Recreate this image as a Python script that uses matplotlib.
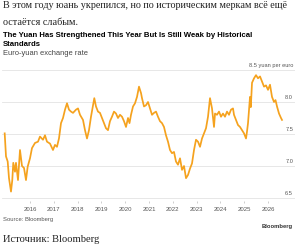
import matplotlib
matplotlib.use("Agg")
import matplotlib.pyplot as plt
import matplotlib.transforms as mtransforms

# Курс евро к юаню (десятичный год, юаней за евро)
years = [
    2014.937, 2014.992, 2015.063, 2015.118, 2015.202, 2015.256, 2015.298, 2015.370,
    2015.412, 2015.496, 2015.580, 2015.664, 2015.748, 2015.832, 2015.903, 2016.000,
    2016.084, 2016.210, 2016.336, 2016.420, 2016.546, 2016.630, 2016.714, 2016.840,
    2016.966, 2017.050, 2017.134, 2017.218, 2017.303, 2017.387, 2017.471, 2017.555,
    2017.639, 2017.723, 2017.807, 2017.933, 2018.017, 2018.101, 2018.227, 2018.311,
    2018.395, 2018.479, 2018.563, 2018.647, 2018.702, 2018.773, 2018.857, 2018.941,
    2019.025, 2019.109, 2019.193, 2019.277, 2019.361, 2019.445, 2019.529, 2019.613,
    2019.697, 2019.782, 2019.866, 2019.950, 2020.034, 2020.118, 2020.181, 2020.244,
    2020.328, 2020.412, 2020.496, 2020.580, 2020.664, 2020.706, 2020.790, 2020.874,
    2020.958, 2021.042, 2021.126, 2021.210, 2021.294, 2021.378, 2021.462, 2021.546,
    2021.630, 2021.714, 2021.798, 2021.882, 2021.966, 2022.050, 2022.134, 2022.218,
    2022.303, 2022.387, 2022.471, 2022.555, 2022.639, 2022.723, 2022.807, 2022.891,
    2022.975, 2023.059, 2023.143, 2023.227, 2023.311, 2023.395, 2023.479, 2023.563,
    2023.647, 2023.731, 2023.773, 2023.857, 2023.941, 2024.025, 2024.109, 2024.193,
    2024.277, 2024.361, 2024.445, 2024.529, 2024.571, 2024.655, 2024.739, 2024.824,
    2024.908, 2024.992, 2025.076, 2025.118, 2025.160, 2025.202, 2025.244, 2025.277,
    2025.328, 2025.412, 2025.496, 2025.580, 2025.664, 2025.748, 2025.832, 2025.916,
    2026.000, 2026.084, 2026.168, 2026.252, 2026.315, 2026.378, 2026.462, 2026.546,
    2026.588,
]
rate = [
    7.51, 7.15, 7.07, 6.81, 6.60, 6.78, 7.05, 6.91,
    7.05, 6.78, 7.25, 7.00, 6.97, 6.78, 6.99, 7.12,
    7.28, 7.36, 7.38, 7.46, 7.41, 7.48, 7.38, 7.35,
    7.25, 7.33, 7.30, 7.43, 7.67, 7.75, 7.88, 7.98,
    7.88, 7.85, 7.83, 7.88, 7.90, 7.80, 7.72, 7.56,
    7.43, 7.56, 7.77, 7.95, 8.06, 7.93, 7.85, 7.83,
    7.75, 7.67, 7.59, 7.56, 7.70, 7.77, 7.85, 7.82,
    7.75, 7.80, 7.77, 7.70, 7.61, 7.75, 7.67, 7.80,
    7.93, 7.98, 8.08, 8.24, 8.14, 8.06, 7.93, 7.95,
    8.00, 7.90, 7.80, 7.83, 7.85, 7.77, 7.70, 7.67,
    7.61, 7.48, 7.38, 7.25, 7.20, 7.22, 7.07, 7.02,
    7.12, 6.94, 7.00, 6.81, 6.86, 6.96, 7.04, 7.25,
    7.41, 7.38, 7.30, 7.43, 7.51, 7.59, 7.77, 8.06,
    7.90, 7.61, 7.82, 7.80, 7.85, 7.77, 7.82, 7.77,
    7.85, 7.80, 7.88, 7.90, 7.80, 7.72, 7.64, 7.61,
    7.56, 7.51, 7.43, 7.54, 7.67, 7.88, 8.08, 7.92,
    8.30, 8.37, 8.42, 8.37, 8.40, 8.32, 8.24, 8.26,
    8.19, 8.27, 8.08, 8.00, 8.03, 7.93, 7.82, 7.75,
    7.72,
]

x_ticks = list(range(2016, 2027))
y_ticks = [6.5, 7.0, 7.5, 8.0, 8.5]
y_labels = ["6.5", "7.0", "7.5", "8.0", "8.5 yuan per euro"]

W, H = 300, 244
fig = plt.figure(figsize=(W / 100, H / 100), dpi=100)
plt.rcParams["font.family"] = ["Liberation Sans", "DejaVu Sans"]


def fy(px):
    return 1 - px / H


# область графика в пикселях: x 2..295, y (сверху) 66.8..201.2
ax = fig.add_axes([2 / W, fy(201.2), 293 / W, (201.2 - 66.8) / H])
ax.plot(years, rate, color="#f5a21e", lw=1.25, solid_joinstyle="round", zorder=3)
ax.set_xlim(2014.824, 2027.134)
ax.set_ylim(6.45, 8.55)

for v in y_ticks:
    ax.axhline(v, color="#e3e3e3", lw=0.6, zorder=1)
trans = mtransforms.blended_transform_factory(ax.transAxes, ax.transData)
for v, lab in zip(y_ticks, y_labels):
    ax.text(0.9935, v + 0.035, lab, transform=trans, ha="right", va="bottom",
            fontsize=4.1, color="#555555")

for s in ax.spines.values():
    s.set_visible(False)
ax.set_yticks([])
ax.set_xticks(x_ticks)
ax.set_xticklabels([str(y) for y in x_ticks], fontsize=4.3, color="#555555")
ax.tick_params(axis="x", length=1.5, width=0.5, color="#bbbbbb", pad=2.5)
ax.patch.set_alpha(0)

serif = ["Liberation Serif", "DejaVu Serif"]
fig.text(3 / W, fy(8.5), "В этом году юань укрепился, но по историческим меркам всё ещё",
         family=serif, fontsize=7.3, color="#222222", va="baseline")
fig.text(3 / W, fy(25), "остаётся слабым.", family=serif, fontsize=7.3,
         color="#222222", va="baseline")
fig.text(3 / W, fy(37), "The Yuan Has Strengthened This Year But Is Still Weak by Historical",
         fontsize=5.6, fontweight="bold", color="#000000", va="baseline")
fig.text(3 / W, fy(45.5), "Standards", fontsize=5.6, fontweight="bold",
         color="#000000", va="baseline")
fig.text(3 / W, fy(55), "Euro-yuan exchange rate", fontsize=5.4,
         color="#444444", va="baseline")
fig.text(3 / W, fy(221), "Source: Bloomberg", fontsize=4.2, color="#555555",
         va="baseline")
fig.text(293 / W, fy(228), "Bloomberg", fontsize=4.2, fontweight="bold",
         color="#333333", ha="right", va="baseline")
fig.text(3 / W, fy(242), "Источник: Bloomberg", family=serif, fontsize=7.6,
         color="#222222", va="baseline")

fig.savefig("out.png", dpi=100)
